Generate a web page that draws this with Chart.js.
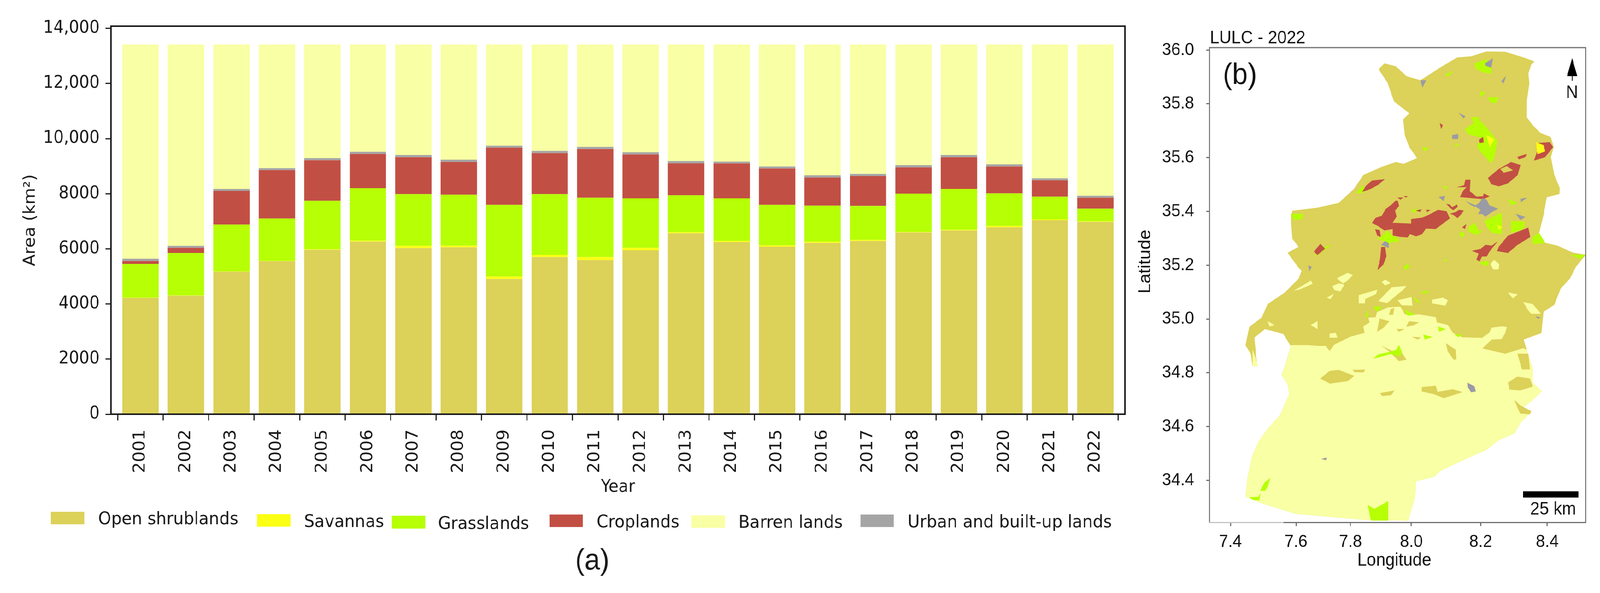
<!DOCTYPE html>
<html><head><meta charset="utf-8">
<script src="https://cdn.jsdelivr.net/npm/chart.js@4"></script>
<style>html,body{margin:0;padding:0;background:#fff;overflow:hidden}
#stage{position:absolute;left:0;top:0;width:4368px;height:1519px;transform-origin:0 0}
canvas{position:absolute;top:0}</style></head>
<body><div id="stage"><canvas id="a" style="left:0" width="3110" height="1519"></canvas><canvas id="b" style="left:3080px" width="1288" height="1519"></canvas></div>
<script>
document.getElementById('stage').style.transform='scaleX('+(Math.min(innerWidth,4368)/4368)+')';
// ---- panel (a) data ----
const years=[2001,2002,2003,2004,2005,2006,2007,2008,2009,2010,2011,2012,2013,2014,2015,2016,2017,2018,2019,2020,2021,2022];
const openShrublands=[4220,4300,5174,5551,5968,6266,6027,6057,4905,5700,5590,5948,6564,6246,6077,6216,6286,6594,6663,6782,7040,6981];
const savannas=[10,10,10,10,20,30,80,60,90,79,110,89,39,40,50,40,39,19,30,50,30,19];
const grasslands=[1222,1539,1697,1539,1757,1906,1877,1847,2601,2205,2155,1798,1341,1549,1469,1311,1232,1391,1479,1182,824,457];
const croplands=[109,188,1222,1758,1470,1241,1340,1191,2076,1489,1767,1589,1162,1261,1321,1022,1082,953,1152,973,596,398];
const urbanLands=[79,70,69,69,79,80,80,80,69,80,79,79,79,69,70,80,80,79,80,79,70,69];
const barrenLands=[7775,7308,5243,4488,4121,3892,4011,4180,3674,3862,3714,3912,4230,4250,4428,4746,4696,4379,4011,4349,4855,5491];
const yTickValues=[0,2000,4000,6000,8000,10000,12000,14000];
const yTickText=['0','2000','4000','6000','8000','10,000','12,000','14,000'];
const colors={shrub:'#dcd159',sav:'#fbff13',grass:'#b6ff05',crop:'#c24f44',barren:'#f9ffa4',urban:'#a5a5a5'};
const legendNames=['Open shrublands','Savannas','Grasslands','Croplands','Barren lands','Urban and built-up lands'];
const legendColors=[colors.shrub,colors.sav,colors.grass,colors.crop,colors.barren,colors.urban];

// ---- panel (b) data: polygons as flat lon,lat lists ----
const latTicks=[34.4,34.6,34.8,35.0,35.2,35.4,35.6,35.8,36.0];
const lonTickPositions=[7.4,7.607,7.779,7.971,8.19,8.4];
const lonTickLabels=['7.4','7.6','7.8','8.0','8.2','8.4'];
const regionOutline=[7.868,35.928,7.886,35.950,7.922,35.939,7.956,35.902,8.000,35.887,8.029,35.909,8.063,35.935,8.116,35.972,8.160,35.976,8.208,35.994,8.267,35.993,8.325,35.972,8.359,35.957,8.349,35.946,8.340,35.913,8.343,35.876,8.335,35.809,8.335,35.750,8.354,35.720,8.379,35.691,8.411,35.676,8.420,35.639,8.411,35.602,8.422,35.535,8.439,35.487,8.438,35.465,8.398,35.453,8.388,35.387,8.374,35.320,8.393,35.283,8.432,35.272,8.481,35.246,8.521,35.238,8.490,35.194,8.471,35.150,8.442,35.113,8.422,35.053,8.388,35.027,8.381,34.948,8.325,34.924,8.335,34.884,8.354,34.813,8.354,34.763,8.383,34.731,8.354,34.699,8.315,34.664,8.349,34.653,8.315,34.614,8.296,34.575,8.247,34.550,8.208,34.514,8.140,34.479,8.063,34.436,8.043,34.414,7.985,34.397,7.983,34.343,7.961,34.251,7.820,34.254,7.703,34.266,7.606,34.276,7.499,34.315,7.448,34.340,7.455,34.414,7.470,34.493,7.489,34.543,7.518,34.592,7.557,34.642,7.586,34.721,7.581,34.756,7.562,34.792,7.577,34.842,7.591,34.899,7.567,34.945,7.509,34.963,7.475,34.931,7.484,34.824,7.470,34.827,7.465,34.870,7.448,34.902,7.460,34.970,7.499,35.005,7.518,35.055,7.572,35.098,7.616,35.150,7.625,35.179,7.616,35.190,7.581,35.246,7.616,35.268,7.596,35.298,7.591,35.379,7.596,35.402,7.674,35.413,7.742,35.431,7.790,35.483,7.820,35.535,7.878,35.565,7.922,35.583,7.946,35.576,7.990,35.598,7.965,35.639,7.951,35.683,7.946,35.742,7.965,35.765,7.917,35.809,7.897,35.876];
const barrenSouth=[7.591,34.902,7.645,34.902,7.678,34.899,7.701,34.899,7.713,34.880,7.728,34.904,7.778,34.933,7.824,34.948,7.820,34.972,7.840,34.987,7.836,35.004,7.859,35.006,7.863,35.025,7.897,35.042,7.936,35.045,7.951,35.016,7.998,35.016,8.048,35.006,8.051,34.987,8.086,34.977,8.102,34.948,8.132,34.931,8.194,34.929,8.217,34.948,8.225,34.967,8.256,34.972,8.272,34.970,8.267,34.948,8.256,34.926,8.225,34.924,8.194,34.890,8.267,34.870,8.325,34.891,8.335,34.884,8.354,34.813,8.354,34.763,8.383,34.731,8.354,34.699,8.315,34.664,8.349,34.653,8.315,34.614,8.296,34.575,8.247,34.550,8.208,34.514,8.140,34.479,8.063,34.436,8.043,34.414,7.985,34.397,7.983,34.343,7.961,34.251,7.820,34.254,7.703,34.266,7.606,34.276,7.499,34.315,7.448,34.340,7.455,34.414,7.470,34.493,7.489,34.543,7.518,34.592,7.557,34.642,7.586,34.721,7.581,34.756,7.562,34.792,7.577,34.842];
const barrenPatches=[
[7.470,34.884,7.487,34.824,7.470,34.827],
[8.221,35.204,8.232,35.219,8.248,35.204,8.246,35.185,8.229,35.185],
[7.722,35.122,7.743,35.132,7.759,35.127,7.747,35.103,7.728,35.108],
[7.736,35.151,7.770,35.171,7.786,35.163,7.767,35.141,7.755,35.132],
[7.601,35.105,7.654,35.142,7.659,35.131,7.616,35.109],
[7.805,35.088,7.863,35.108,7.859,35.093,7.824,35.074,7.824,35.059,7.805,35.059],
[7.867,35.066,7.909,35.117,7.955,35.122,7.944,35.108,7.894,35.059],
[7.928,35.069,7.971,35.081,7.974,35.050,7.940,35.052],
[8.036,35.071,8.071,35.079,8.086,35.069,8.078,35.050,8.036,35.059],
[7.878,35.137,7.888,35.146,7.905,35.134,7.888,35.125],
[7.705,35.079,7.726,35.093,7.715,35.074],
[8.325,35.062,8.354,35.055,8.379,35.020,8.349,35.020,8.335,35.041],
[8.276,35.098,8.306,35.091,8.291,35.077],
[7.518,34.991,7.538,34.977,7.523,34.973],
[7.654,34.977,7.674,34.991,7.674,34.963],
[7.713,34.945,7.732,34.948,7.737,34.931,7.713,34.931]];
const shrubPatches=[
[7.870,35.001,7.901,34.991,7.882,34.967,7.863,34.953],
[7.905,35.035,7.917,35.040,7.913,35.016,7.901,35.016],
[7.924,34.962,7.948,34.962,7.932,34.953],
[7.963,34.991,7.994,34.987,7.978,34.977,7.955,34.972],
[7.974,34.933,8.001,34.931,7.990,34.924],
[7.684,34.778,7.713,34.806,7.742,34.810,7.790,34.788,7.771,34.770,7.713,34.760],
[7.786,34.810,7.825,34.811,7.820,34.802,7.791,34.803],
[7.878,34.899,7.928,34.870,7.932,34.899,7.940,34.875,7.955,34.849,7.932,34.844,7.901,34.880],
[7.873,34.724,7.917,34.733,7.907,34.717,7.878,34.714],
[8.004,34.746,8.048,34.751,8.053,34.728,8.102,34.738,8.131,34.728,8.073,34.706,8.043,34.721,8.004,34.731],
[8.080,34.909,8.111,34.885,8.113,34.851,8.105,34.849,8.086,34.880],
[8.276,34.763,8.306,34.785,8.345,34.778,8.354,34.749,8.315,34.735,8.281,34.738],
[8.296,34.699,8.315,34.678,8.349,34.657,8.345,34.646,8.315,34.649,8.306,34.671],
[8.306,34.870,8.340,34.870,8.345,34.813,8.320,34.813]];
const grassPatches=[
[7.834,34.308,7.854,34.293,7.888,34.315,7.897,34.322,7.897,34.251,7.844,34.251,7.839,34.279],
[7.494,34.361,7.509,34.393,7.525,34.407,7.518,34.379,7.509,34.361],
[7.460,34.336,7.489,34.338,7.494,34.350,7.491,34.326,7.470,34.328],
[7.851,34.853,7.867,34.868,7.897,34.875,7.924,34.885,7.932,34.902,7.940,34.880,7.936,34.861,7.905,34.870,7.863,34.856],
[7.948,35.035,7.982,35.016,7.959,35.013],
[7.824,35.011,7.836,35.033,7.832,35.006],
[7.851,35.045,7.878,35.045,7.863,35.028],
[8.107,34.943,8.132,34.941,8.119,34.933],
[7.998,35.098,8.028,35.105,8.017,35.093],
[7.982,35.083,7.998,35.059,7.986,35.064],
[8.009,34.941,8.036,34.933,8.013,34.924],
[8.055,34.972,8.078,34.962,8.059,34.953],
[8.170,35.950,8.208,35.965,8.223,35.935,8.223,35.913,8.199,35.917,8.174,35.931],
[8.140,35.705,8.184,35.742,8.208,35.713,8.242,35.661,8.233,35.602,8.223,35.579,8.194,35.616,8.179,35.639,8.189,35.676,8.150,35.687],
[8.213,35.824,8.247,35.824,8.238,35.802,8.218,35.809],
[7.591,35.390,7.630,35.390,7.625,35.372,7.601,35.368],
[8.202,35.364,8.244,35.388,8.256,35.393,8.256,35.316,8.225,35.321,8.211,35.340],
[8.153,35.342,8.171,35.357,8.182,35.330,8.194,35.325,8.175,35.313,8.152,35.325],
[8.123,35.321,8.138,35.321,8.136,35.306,8.125,35.306],
[8.286,35.364,8.330,35.361,8.325,35.335,8.286,35.320],
[8.354,35.305,8.374,35.320,8.393,35.283,8.354,35.279],
[7.878,35.306,7.894,35.328,7.909,35.311,7.928,35.301,7.932,35.287,7.909,35.287,7.899,35.277,7.882,35.292,7.863,35.299],
[8.071,35.495,8.086,35.490,8.075,35.483],
[7.684,35.261,7.718,35.276,7.693,35.253,7.664,35.231],
[8.471,35.238,8.519,35.238,8.505,35.224],
[7.797,35.468,7.817,35.495,7.830,35.483,7.819,35.471,7.805,35.468],
[7.971,35.405,7.990,35.409,7.986,35.398,7.974,35.398],
[7.946,35.190,7.957,35.204,7.967,35.195,7.951,35.183],
[8.071,35.219,8.086,35.219,8.078,35.213],
[8.186,35.209,8.209,35.216,8.217,35.204,8.202,35.197],
[8.160,35.750,8.184,35.750,8.174,35.713],
[8.077,35.909,8.102,35.920,8.087,35.902],
[8.189,35.846,8.204,35.842,8.189,35.824],
[8.276,35.446,8.306,35.431,8.286,35.424],
[8.004,35.635,8.026,35.639,8.014,35.624],
[8.112,35.653,8.121,35.646,8.106,35.642]];
const cropPatches=[
[8.213,35.524,8.247,35.557,8.286,35.583,8.315,35.572,8.306,35.535,8.276,35.505,8.247,35.494,8.223,35.502],
[8.117,35.490,8.138,35.497,8.142,35.517,8.157,35.517,8.155,35.475,8.177,35.454,8.198,35.456,8.200,35.466,8.217,35.456,8.198,35.446,8.152,35.451,8.125,35.454,8.136,35.478,8.146,35.490],
[7.847,35.357,7.859,35.376,7.878,35.383,7.890,35.408,7.909,35.425,7.921,35.439,7.928,35.439,7.932,35.420,7.919,35.403,7.924,35.381,7.911,35.357,7.971,35.354,7.971,35.371,8.005,35.376,8.025,35.386,8.055,35.405,8.082,35.400,8.092,35.374,8.067,35.352,8.048,35.335,8.017,35.337,8.005,35.316,7.986,35.308,7.967,35.316,7.959,35.304,7.936,35.306,7.913,35.311,7.913,35.335,7.886,35.330,7.867,35.345],
[7.857,35.333,7.871,35.330,7.874,35.306,7.863,35.311],
[7.817,35.473,7.828,35.495,7.847,35.514,7.886,35.519,7.867,35.500,7.844,35.485,7.830,35.478],
[8.247,35.268,8.276,35.309,8.340,35.339,8.346,35.305,8.306,35.276,8.276,35.246,8.242,35.253],
[8.163,35.253,8.190,35.260,8.205,35.275,8.225,35.272,8.242,35.287,8.217,35.250,8.209,35.233,8.194,35.233,8.186,35.214,8.177,35.221,8.184,35.243],
[7.876,35.267,7.888,35.267,7.892,35.233,7.882,35.202,7.865,35.183,7.872,35.219],
[7.664,35.250,7.684,35.279,7.698,35.261,7.674,35.238],
[8.364,35.653,8.408,35.657,8.418,35.639,8.393,35.602,8.359,35.590,8.369,35.624],
[8.061,35.728,8.070,35.720,8.065,35.707],
[8.184,35.665,8.197,35.676,8.199,35.657,8.187,35.655],
[8.094,35.391,8.113,35.398,8.121,35.405,8.136,35.403,8.127,35.388,8.117,35.376,8.105,35.386],
[8.082,35.427,8.092,35.425,8.100,35.415,8.115,35.425,8.117,35.417,8.103,35.405,8.090,35.417],
[8.132,35.340,8.144,35.352,8.140,35.335],
[7.928,35.451,7.944,35.451,7.936,35.444],
[7.948,35.456,7.959,35.456,7.953,35.452],
[7.986,35.403,8.003,35.407,7.998,35.398],
[8.017,35.405,8.030,35.405,8.021,35.398],
[8.306,35.602,8.335,35.613,8.330,35.602,8.310,35.594]];
const cropHoles=[[8.252,35.557,8.272,35.568,8.291,35.553,8.262,35.544]];
const urbanPatches=[
[8.147,34.763,8.170,34.749,8.174,34.731,8.160,34.728,8.150,34.746],
[7.688,34.479,7.703,34.484,7.701,34.475],
[8.364,35.009,8.379,35.005,8.369,35.002],
[8.204,35.950,8.228,35.968,8.223,35.935,8.206,35.942],
[8.000,35.887,8.017,35.887,8.006,35.861],
[8.100,35.683,8.118,35.687,8.118,35.670,8.100,35.670],
[8.171,35.420,8.186,35.432,8.196,35.449,8.209,35.442,8.217,35.422,8.244,35.410,8.225,35.398,8.205,35.381,8.194,35.391,8.182,35.391,8.190,35.405],
[8.144,35.437,8.173,35.422,8.171,35.417,8.155,35.427],
[7.876,35.275,7.888,35.289,7.899,35.282,7.899,35.265,7.888,35.270],
[8.058,35.453,8.077,35.457,8.072,35.439],
[8.301,35.390,8.330,35.379,8.315,35.368],
[7.645,35.198,7.656,35.194,7.650,35.179],
[8.121,35.765,8.141,35.754,8.136,35.746],
[8.255,35.883,8.269,35.902,8.262,35.876],
[8.315,35.446,8.335,35.450,8.317,35.435]];
const savannaPatches=[
[8.364,35.657,8.388,35.646,8.393,35.624,8.369,35.613],
[8.208,35.683,8.233,35.668,8.218,35.639],
[8.242,35.350,8.257,35.342,8.247,35.331]];

// ---- panel (a) chart ----
const INK='#1a1a1a';
const legendLayout=[
 {sx:139,sy:1311,sh:32,tx:268,ty:1343},{sx:702,sy:1317,sh:32,tx:830,ty:1350},{sx:1070,sy:1321,sh:33,tx:1196,ty:1355},
 {sx:1500,sy:1318,sh:32,tx:1629,ty:1351},{sx:1888,sy:1320,sh:32,tx:2016,ty:1352},{sx:2349,sy:1318,sh:32,tx:2478,ty:1351}];
const panelAExtras={id:'panelAExtras',afterDraw(c){
  const g=c.ctx,a=c.chartArea;
  g.save();
  g.strokeStyle=INK;g.lineWidth=4;g.strokeRect(a.left,a.top,a.right-a.left,a.bottom-a.top);
  g.font='45px "DejaVu Sans"';g.textBaseline='alphabetic';g.textAlign='left';
  legendNames.forEach((n,i)=>{const p=legendLayout[i];
    g.fillStyle=legendColors[i];g.fillRect(p.sx,p.sy,91,p.sh);
    g.fillStyle=INK;g.fillText(n,p.tx,p.ty);});
  g.font='76px "Liberation Sans"';g.textAlign='center';g.fillStyle=INK;g.fillText('(a)',1617,1459);
  g.restore();
}};
new Chart(document.getElementById('a'),{
  type:'bar',
  data:{labels:years,datasets:[
    {label:legendNames[0],data:openShrublands,backgroundColor:colors.shrub},
    {label:legendNames[1],data:savannas,backgroundColor:colors.sav},
    {label:legendNames[2],data:grasslands,backgroundColor:colors.grass},
    {label:legendNames[3],data:croplands,backgroundColor:colors.crop},
    {label:legendNames[5],data:urbanLands,backgroundColor:colors.urban},
    {label:legendNames[4],data:barrenLands,backgroundColor:colors.barren}]},
  options:{responsive:false,animation:false,devicePixelRatio:1,
    barPercentage:0.8,categoryPercentage:1,borderWidth:0,
    layout:{padding:{left:0,top:67,right:39,bottom:0}},
    plugins:{legend:{display:false},tooltip:{enabled:false}},
    scales:{
      x:{type:'linear',stacked:true,min:2000.35,max:2022.65,offset:false,
        afterFit(s){s.height=458;},
        border:{display:false},
        grid:{display:true,drawOnChartArea:false,tickLength:16,tickColor:INK,tickWidth:3},
        ticks:{stepSize:1,includeBounds:false,autoSkip:false,minRotation:90,maxRotation:90,padding:23,color:INK,
          font:{family:'"DejaVu Sans"',size:44},callback:v=>String(v)},
        title:{display:true,text:'Year',color:INK,font:{family:'"DejaVu Sans"',size:44},padding:{top:0,bottom:244}}},
      y:{stacked:true,min:0,max:14080,
        afterFit(s){s.width=303;},
        afterBuildTicks(s){s.ticks=yTickValues.map(v=>({value:v}));},
        border:{display:false},
        grid:{display:true,drawOnChartArea:false,tickLength:15,tickColor:INK,tickWidth:3},
        ticks:{autoSkip:false,padding:16,color:INK,
          font:{family:'"DejaVu Sans"',size:44},callback:(v,i)=>yTickText[i]},
        title:{display:true,text:'Area (km²)',color:INK,font:{family:'"DejaVu Sans"',size:44},padding:{top:57,bottom:0}}}
    }},
  plugins:[panelAExtras]});

// ---- panel (b) chart ----
const toPoints=f=>{const o=[];for(let i=0;i<f.length;i+=2)o.push({x:f[i],y:f[i+1]});return o;};
const polyLayers=[ // bottom to top
  [[regionOutline],colors.shrub],[[barrenSouth],colors.barren],[barrenPatches,colors.barren],[shrubPatches,colors.shrub],
  [grassPatches,colors.grass],[cropPatches,colors.crop],[cropHoles,colors.shrub],[urbanPatches,'#9b9ba5'],[savannaPatches,colors.sav]];
const polyDatasets=[];
polyLayers.forEach(([list,col])=>list.forEach(f=>polyDatasets.push({data:toPoints(f),backgroundColor:col,borderColor:col})));
polyDatasets.reverse(); // Chart.js paints the first dataset last
const polygonFill={id:'polygonFill',beforeDatasetDraw(c,args){
  const pts=args.meta.data,g=c.ctx,ds=c.data.datasets[args.index],a=c.chartArea;
  g.save();g.beginPath();g.rect(a.left,a.top,a.right-a.left,a.bottom-a.top);g.clip();
  g.beginPath();pts.forEach((p,i)=>i?g.lineTo(p.x,p.y):g.moveTo(p.x,p.y));g.closePath();
  g.fillStyle=ds.backgroundColor;g.fill();g.restore();
}};
const panelBExtras={id:'panelBExtras',afterDraw(c){
  const g=c.ctx,a=c.chartArea,X=-3080;
  g.save();
  g.strokeStyle='#6f6f6f';g.lineWidth=3;
  g.beginPath();g.moveTo(a.left,a.bottom);g.lineTo(a.left,a.top);g.lineTo(a.right,a.top);g.lineTo(a.right,a.bottom);g.lineTo(3504+X,a.bottom);g.stroke();
  g.strokeStyle='#c4c4c4';g.beginPath();g.moveTo(a.left,a.bottom);g.lineTo(3504+X,a.bottom);g.stroke();
  g.fillStyle='#111';g.textBaseline='alphabetic';g.textAlign='left';
  g.font='46px "Liberation Sans"';g.fillText('LULC - 2022',3303+X,111);
  g.font='76px "Liberation Sans"';g.textAlign='center';g.fillText('(b)',3385+X,215);
  g.textBaseline='middle';
  g.font='46px "Liberation Sans"';
  g.fillText('N',4291.6+X,238);
  g.fillText('25 km',4240+X,1305);
  g.fillText('Longitude',3806.5+X,1436);
  g.save();g.translate(3127+X,670);g.rotate(-Math.PI/2);g.fillText('Latitude',0,0);g.restore();
  g.fillStyle='#000';g.fillRect(4158+X,1258.5,151,16);
  g.beginPath();g.moveTo(4292+X,149);g.lineTo(4306+X,195);g.lineTo(4278+X,195);g.closePath();g.fill();
  g.fillRect(4291+X,195,2,12);
  g.restore();
}};
new Chart(document.getElementById('b'),{
  type:'scatter',
  data:{datasets:polyDatasets.map(d=>({...d,showLine:true,borderWidth:1,pointRadius:0,tension:0}))},
  options:{responsive:false,animation:false,devicePixelRatio:1,
    layout:{padding:{left:0,top:122,right:39,bottom:0}},
    plugins:{legend:{display:false},tooltip:{enabled:false}},
    scales:{
      x:{type:'linear',min:7.334,max:8.5215,
        afterFit(s){s.height=180.5;},
        afterBuildTicks(s){s.ticks=lonTickPositions.map(v=>({value:v}));},
        border:{display:false},
        grid:{display:true,drawOnChartArea:false,tickLength:9,tickColor:'#6f6f6f',tickWidth:3},
        ticks:{autoSkip:false,maxRotation:0,padding:14,color:'#111',font:{family:'"Liberation Sans"',size:45},
          callback:(v,i)=>lonTickLabels[i]}},
      y:{type:'linear',min:34.243,max:36.009,
        afterFit(s){s.width=222;},
        afterBuildTicks(s){s.ticks=latTicks.map(v=>({value:v}));},
        border:{display:false},
        grid:{display:true,drawOnChartArea:false,tickLength:9,tickColor:'#6f6f6f',tickWidth:3},
        ticks:{autoSkip:false,padding:33,color:'#111',font:{family:'"Liberation Sans"',size:45},
          callback:v=>v.toFixed(1)}}
    }},
  plugins:[polygonFill,panelBExtras]});
</script></body></html>
